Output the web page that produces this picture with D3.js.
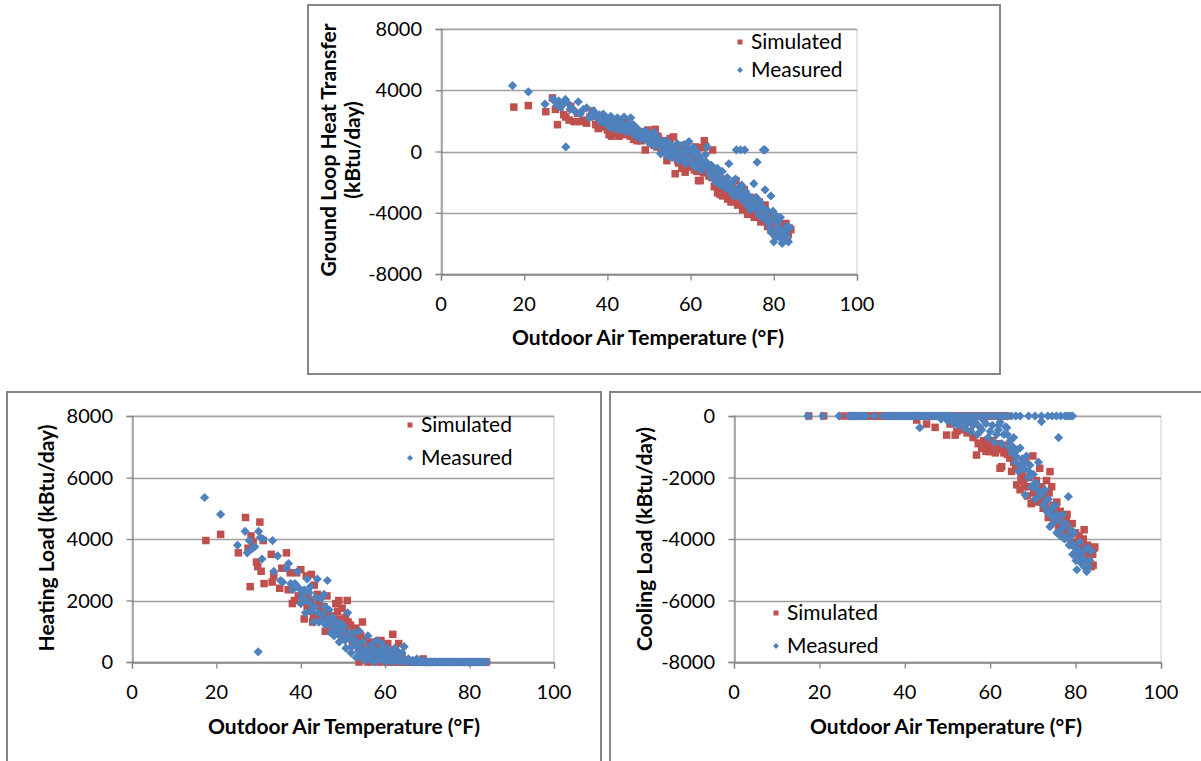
<!DOCTYPE html>
<html><head><meta charset="utf-8">
<script src="https://cdn.jsdelivr.net/npm/d3@7"></script>
<style>body{margin:0;background:#fff}svg{display:block}text{font-family:Lato,"Open Sans",sans-serif}</style>
</head><body><svg id="c" width="1201" height="761"></svg>
<script>
// ---------- DATA ----------
const xTicks = [0, 20, 40, 60, 80, 100];
const groundTicks = [-8000, -4000, 0, 4000, 8000];
const heatTicks = [0, 2000, 4000, 6000, 8000];
const coolTicks = [-8000, -6000, -4000, -2000, 0];
const seriesNames = ["Simulated", "Measured"];
const xTitle = "Outdoor Air Temperature (°F)";

const groundSim = [[17.5,2900],[21,3000],[25.2,2600],[26.8,3500],[27.5,2750],[28,1750],[28.6,2900],[29.5,2400],[30,2250],[30.8,2050],[31.2,2950],[32,1950],[32.8,2500],[33.4,1950],[34.2,2050],[35,1850],[35.8,2250],[36.3,2650],[36.8,2350],[37.2,1750],[37.8,1500],[38.3,1800],[38.8,2150],[39.5,1600],[40,1400],[40.4,1100],[40.8,1650],[41.2,1300],[41.6,1900],[42,1150],[42.4,1500],[42.8,1000],[43.1,1750],[43.5,1350],[43.9,1100],[44.3,1900],[44.7,1250],[45.1,1500],[45.5,1000],[45.9,1650],[46.3,800],[46.7,1350],[47.1,700],[47.5,1150],[47.9,950],[48.3,1300],[48.7,1050],[49.1,100],[49.5,850],[49.9,1200],[50.3,600],[50.7,900],[51.1,750],[51.5,1450],[51.9,300],[52.3,850],[52.7,450],[53.1,650],[53.5,200],[53.9,700],[54.3,-600],[54.7,350],[55.1,850],[55.5,-100],[55.9,950],[56.3,-1450],[56.7,100],[57.1,-750],[57.5,-200],[57.9,-1100],[58.3,250],[58.7,-1350],[59.1,-700],[59.5,-350],[59.9,50],[60.3,-1000],[60.7,-600],[61.1,300],[61.5,-1300],[61.9,-1900],[62.3,-1900],[62.7,250],[63.1,-1400],[63.3,700],[63.6,350],[64,-900],[64.4,-1600],[64.8,-1200],[65.3,100],[65.7,-2300],[66.1,-1900],[66.5,-2700],[66.9,-2100],[67.3,-2500],[67.7,-2900],[68.1,-2300],[68.5,-1800],[68.9,-3100],[69.3,-2600],[69.7,-3300],[70.1,-2200],[70.5,-2900],[70.9,-1900],[71.3,-3500],[71.7,-2700],[72.1,-3300],[72.5,-3800],[72.9,-2500],[73.3,-3200],[73.7,-4100],[74.1,-3400],[74.5,-3000],[74.9,-3800],[75.3,-4300],[75.7,-3600],[76.1,-4000],[76.5,-3300],[76.9,-4600],[77.3,-3800],[77.7,-4400],[78.1,-3900],[78.5,-4900],[78.9,-4200],[79.3,-5100],[79.7,-4600],[80.1,-4300],[80.5,-5300],[80.9,-4800],[81.3,-4500],[81.7,-5500],[82.1,-4900],[82.5,-5300],[82.9,-4700],[83.3,-5700],[83.7,-5000],[84.1,-5100],
  [40.2,1700],[41,1000],[41.8,1500],[42.6,1300],[43.3,1600],[44.1,1450],[44.9,1700],[45.7,1300],[46.5,1100],[47.3,1000],[48.1,700],[48.9,800],[49.7,1400],[50.5,1200],[51.3,400],[52.1,1000],[52.9,200],[53.7,400],[54.5,600],[55.3,200],[56.1,-300],[56.9,-600],[57.7,400],[58.5,-500],[59.3,-1000],[60.1,-200],[60.9,-1200],[61.7,-400],[62.5,-800],[63.9,-1300],[65.1,-1700],[66.3,-2100],[67.1,-2800],[68.3,-2700],[69.1,-2300],[70.3,-3100],[71.1,-2500],[72.3,-2900],[73.1,-3600],[73.9,-3100],[74.7,-4000],[75.5,-3100],[76.3,-4200],[77.1,-4100],[77.9,-3500],[78.7,-4500],[79.5,-4300],[80.3,-4900],[81.1,-5100],[81.9,-5000],[82.7,-5600],[83.5,-5400]];
const groundMeas = [[17.2,4300],[21,3900],[25,3100],[26.9,3450],[27.4,3250],[27.9,3000],[28.3,3300],[28.8,2900],[29.3,3100],[29.9,3400],[30,300],[30.5,3150],[31,2750],[31.6,2800],[32.3,2600],[33,3250],[33.5,2450],[34.2,2750],[35,2850],[35.6,2200],[36.1,2450],[36.7,2650],[37.1,2300],[37.6,2150],[38.1,2400],[38.6,1900],[39,2450],[39.5,2050],[40,1750],[40.4,2000],[40.8,2300],[41.2,1650],[41.6,1950],[42,1450],[42.4,2200],[42.8,1800],[43.2,1400],[43.6,1700],[44,2250],[44.4,1300],[44.8,1800],[45.2,1500],[45.6,2200],[46,1200],[46.4,1650],[46.8,1000],[47.2,1400],[47.6,1100],[48,800],[48.4,1250],[48.8,900],[49.2,1350],[49.6,700],[50,1050],[50.4,500],[50.8,900],[51.2,1250],[51.6,350],[52,650],[52.4,800],[52.8,-150],[53.2,400],[53.6,600],[54,100],[54.4,-300],[54.8,550],[55.2,200],[55.6,-400],[56,300],[56.4,-100],[56.8,500],[57.2,-600],[57.6,0],[58,-300],[58.4,450],[58.8,-800],[59.2,100],[59.6,650],[60,-500],[60.4,-200],[60.8,250],[61.2,-1000],[61.6,-700],[62,-300],[62.4,-1200],[62.8,-600],[63.2,-900],[63.6,-200],[64,300],[64.4,-1400],[64.8,-1000],[65.2,-1700],[65.6,-1200],[66,-2000],[66.4,-1100],[66.8,-1600],[67.2,-2200],[67.6,-1300],[68,-1900],[68.4,-2400],[68.8,-1700],[69.2,-800],[69.6,-2600],[70,-2000],[70.4,-2900],[70.8,-1800],[71,100],[71.4,-2400],[71.8,-3000],[72,100],[72.3,-2200],[72.7,-3200],[73,100],[73.2,-2600],[73.6,-3500],[74,-2900],[74.4,-3800],[74.8,-3200],[75.2,-2100],[75.6,-3600],[76,-700],[76.3,-4100],[76.7,-3300],[77.1,-4300],[77.5,100],[77.5,-3700],[77.9,100],[77.9,-2500],[78.2,-4500],[78.6,-3900],[79,-5000],[79.3,-2900],[79.6,-4400],[80,-5900],[80.2,-4100],[80.5,-5300],[80.9,-4700],[81.3,-5600],[81.6,-4300],[82,-6000],[82.3,-5100],[82.7,-5500],[83.1,-4900],[83.5,-5900],[83.8,-5000],
  [39.8,2200],[40.6,1550],[41.4,2100],[42.2,1750],[43,2050],[43.8,1550],[44.6,1600],[45.4,1350],[46.2,1750],[47,1550],[47.8,1200],[48.6,1100],[49.4,1000],[50.2,800],[51,600],[51.8,1000],[52.6,450],[53.4,100],[54.2,700],[55,-100],[55.8,0],[56.6,200],[57.4,-300],[58.2,-100],[59,-500],[59.8,200],[60.6,-900],[61.4,0],[62.2,-600],[63,-1100],[63.8,-700],[65,-900],[66.2,-1500],[67,-1900],[68.2,-2100],[69,-2200],[70.2,-2400],[71.2,-2700],[72.5,-2700],[73.4,-3000],[74.2,-3400],[75,-3700],[75.8,-3000],[76.5,-3800],[77.3,-3600],[78,-4200],[78.8,-4700],[79.4,-5300],[79.8,-3900],[80.4,-5600],[80.8,-5000],[81.2,-4500],[81.8,-5300],[82.5,-5800],[82.9,-5300],[83.3,-5600],[83.6,-4900]];

const heatSim = [[17.5,3950],[21,4150],[25.2,3550],[26.9,4700],[27.5,3700],[28,2450],[28.2,4100],[28.7,3900],[29.5,3250],[29.8,3100],[30.3,4550],[30.6,2950],[31.1,3950],[31.3,2550],[33,3500],[33.2,2600],[33.6,2800],[35,2400],[35.5,3050],[36.6,3550],[37,2350],[37.5,2900],[38,1900],[38.5,2000],[39,2900],[39.4,2150],[40,3000],[40.3,1950],[40.8,1400],[41.3,2800],[41.7,2150],[42,1650],[42.5,2850],[42.8,1300],[43.2,2500],[43.6,1850],[44,1400],[44.4,1950],[44.8,1700],[45.3,1450],[45.8,1000],[46.2,2150],[46.6,1250],[47,1500],[47.4,1100],[47.8,1350],[48.3,1900],[48.7,1650],[49,2000],[49.4,1150],[49.8,1750],[50.2,800],[50.6,1450],[51,2000],[51.4,900],[51.8,1200],[52.2,650],[52.6,1050],[53,1100],[53.4,750],[53.8,0],[54.2,850],[54.6,1300],[55,400],[55.4,700],[55.8,0],[56.2,500],[56.6,300],[57,650],[57.4,100],[57.8,450],[58.2,0],[58.6,200],[59,700],[59.4,0],[59.8,300],[60.2,150],[60.6,600],[61,100],[61.4,0],[61.8,900],[62.2,400],[62.6,50],[63,250],[63.4,0],[63.8,100],[64.4,0],[65,50],[66,0],[67,0],[68,0],[69,100],[70,0],[71,0],[72,0],[73,0],[74,0],[75,0],[76,0],[77,0],[78,0],[79,0],[80,0],[81,0],[82,0],[83,0],[84,0],
  [40.6,2300],[41.5,1800],[42.3,2000],[43,1500],[43.9,2200],[44.6,1550],[45.5,1800],[46.4,1600],[47.2,1300],[48,1000],[48.9,1400],[49.6,1200],[50.4,1000],[51.2,1300],[52,800],[52.8,900],[53.6,500],[54.4,600],[55.2,300],[56,200],[56.8,0],[57.6,300],[58.4,500],[59.2,200],[60,400],[60.8,0],[61.6,300],[62.4,0],[63.2,600],[64,200],[64.8,0],[65.5,0],[66.5,0],[67.5,0],[68.5,0],[69.5,0],[70.5,0],[71.5,0],[72.5,0],[73.5,0],[74.5,0],[75.5,0],[76.5,0],[77.5,0],[78.5,0],[79.5,0],[80.5,0],[81.5,0],[82.5,0],[83.5,0]];
const heatMeas = [[17.2,5350],[21,4800],[25,3800],[26.8,4250],[27.3,3550],[27.8,3950],[28.1,3650],[28.6,3700],[29.1,3750],[29.9,330],[30,4250],[30.4,4050],[30.8,3350],[31.1,4000],[33.3,3950],[33.6,2950],[34.5,3450],[35.2,2650],[35.7,2600],[36.6,3050],[37.1,3200],[37.6,2550],[38.1,2350],[38.6,2550],[39.2,2950],[39.6,2400],[40,1900],[40.4,2250],[40.8,2350],[41.1,1600],[41.5,2700],[41.9,1950],[42.3,2450],[42.7,1750],[43.1,1300],[43.5,2100],[43.9,2700],[44.3,1300],[44.7,2050],[45.1,1550],[45.5,2200],[45.9,1200],[46.3,2650],[46.7,1700],[47.1,950],[47.5,1450],[47.9,850],[48.3,1300],[48.7,1050],[49.1,650],[49.5,1250],[49.9,800],[50.3,1150],[50.7,450],[51.1,1600],[51.5,950],[51.9,300],[52.3,700],[52.7,950],[53.1,150],[53.5,500],[53.9,1000],[54.3,200],[54.7,650],[55.1,50],[55.5,400],[55.9,850],[56.3,100],[56.7,550],[57.1,250],[57.5,0],[57.9,700],[58.3,350],[58.7,100],[59.1,600],[59.5,200],[59.9,0],[60.3,450],[60.7,150],[61.1,300],[61.5,0],[61.9,200],[62.3,450],[62.7,50],[63.1,150],[63.5,0],[64,300],[64.5,500],[65,0],[65.5,100],[66,0],[66.5,50],[67,0],[67.5,100],[68,0],[68.5,0],[69,50],[69.5,0],[70,0],[70.5,0],[71,0],[71.5,0],[72,0],[72.5,0],[73,0],[73.5,0],[74,0],[74.5,0],[75,0],[75.5,0],[76,0],[76.5,0],[77,0],[77.5,0],[78,0],[78.5,0],[79,0],[79.5,0],[80,0],[80.5,0],[81,0],[81.5,0],[82,0],[82.5,0],[83,0],[83.5,0],
  [40.2,2100],[41.3,2000],[42,2250],[42.5,1650],[43.3,1800],[44.1,1600],[44.9,1350],[45.7,1800],[46.5,1400],[47.3,1200],[48.1,1100],[48.9,900],[49.7,1000],[50.5,700],[51.3,800],[52.1,500],[52.9,700],[53.7,350],[54.5,400],[55.3,250],[56.1,300],[56.9,150],[57.7,400],[58.5,250],[59.3,400],[60.1,100],[60.9,350],[61.7,100],[62.5,200],[63.3,300],[64.2,100],[64.8,0],[65.8,50],[66.8,0],[67.8,0],[68.8,0],[69.8,0],[70.8,0],[71.8,0],[72.8,0],[73.8,0],[74.8,0],[75.8,0],[76.8,0],[77.8,0],[78.8,0],[79.8,0],[80.8,0],[81.8,0],[82.8,0],[84,0]];

const coolSimZeroTemps = [17.5,21,25.2,26.9,27.5,28,28.5,29,29.5,30,30.5,31,31.5,32,33,33.5,34,35,35.5,36,36.5,37,37.5,38,38.5,39,39.5,40,40.5,41,41.5,42,43,44,45,46,47,48,49,50,51,52,53,54,55,56,57,58,59,60,61,62,63,63.8];
const coolSim = [[42.8,-130],[45.1,-260],[47.1,-370],[49.8,-620],[50.6,-260],[51.8,-620],[52.2,-500],[53,-450],[54,-400],[54.6,-550],[55.3,-500],[56,-700],[56.8,-1270],[57.2,-900],[57.6,-880],[58,-1050],[58.5,-800],[59,-1150],[59.5,-950],[60,-1160],[60.5,-800],[61,-1000],[61.5,-1100],[62.3,-1700],[62.7,-1650],[63.2,-1200],[63.7,-950],[64.2,-1100],[64.6,-1370],[65,-1800],[65.5,-1500],[66.2,-2240],[66.6,-1600],[67,-2400],[67.4,-1900],[67.8,-2100],[68.3,-1500],[68.7,-2600],[69.2,-2300],[69.6,-2850],[70,-1300],[70.4,-2500],[70.8,-2100],[71.2,-2800],[71.6,-1700],[72,-2300],[72.4,-3000],[72.8,-2600],[73.2,-2100],[73.6,-3300],[74,-1810],[74.4,-2300],[74.8,-2900],[75.2,-3400],[75.6,-2800],[76,-3600],[76.4,-3100],[76.8,-3500],[77.2,-3300],[77.6,-3800],[78,-3200],[78.4,-3700],[78.8,-4000],[79.2,-3500],[79.6,-4200],[80,-3800],[80.4,-4400],[80.8,-3900],[81.2,-4100],[81.6,-4500],[82,-3700],[82.4,-4700],[82.8,-4200],[83.2,-4600],[83.6,-4900],[84.1,-4850],[84.3,-4300],[84.5,-4260],
  [58.2,-1000],[59.2,-850],[60.2,-950],[61.2,-1200],[62,-900],[63,-1000],[64,-1250],[65.3,-1300],[66,-1700],[67.2,-2000],[68,-2300],[69,-2000],[70.2,-2400],[71,-2600],[72.2,-2700],[73,-2900],[73.8,-2500],[74.6,-3100],[75.4,-3000],[76.2,-3300],[77,-3700],[77.8,-3400],[78.6,-3900],[79.4,-3800],[80.2,-4100],[81,-4300],[81.8,-4000],[82.6,-4400],[83.4,-4300],[84,-4500]];
const coolMeasZeroTemps = [17.3,20.8,24.6,27,27.5,28,28.5,29,29.5,30,30.5,31,33,35,35.5,36,36.5,37,37.5,38,38.5,39,39.5,40,40.5,41,41.5,42,42.5,43,43.5,44,44.5,45,45.5,46,46.5,47,47.5,48,48.5,49,49.5,50,50.5,51,51.5,52,53,54,55,56,57,58,59,60,61,62,63,64,65,66,67,69,70.5,72,73.5,74.5,75.5,76.5,77.5,78,78.5,79,79.3];
const coolMeas = [[43.5,-380],[48.5,-100],[50,-150],[51,-100],[51.5,-250],[52,-150],[52.5,-300],[53,-200],[53.5,-100],[54,-400],[54.5,-250],[55,-150],[55.5,-500],[56,-300],[56.5,-200],[57,-600],[57.5,-350],[58,-450],[58.5,-150],[59,-250],[59.5,-700],[60,-500],[60.5,-300],[61,-850],[61.5,-600],[61.9,-450],[62.3,-200],[62.7,-900],[63.2,-600],[63.6,-350],[63.9,-380],[64.3,-1000],[64.7,-800],[65.1,-1200],[65.5,-700],[65.9,-1500],[66.3,-1100],[66.6,-1800],[67,-1040],[67.4,-1400],[67.8,-1700],[68.2,-2570],[68.5,-1300],[68.9,-2000],[69.3,-1600],[69.7,-2300],[70.1,-1900],[70.5,-2700],[70.9,-2200],[71.3,-1500],[71.7,-2600],[72,-180],[72.4,-2900],[72.8,-2400],[73.2,-3100],[73.6,-2700],[74,-3600],[74.4,-3000],[74.8,-3300],[75.2,-2900],[75.6,-3800],[76,-700],[76.2,-3400],[76.6,-3700],[77,-3200],[77.4,-4000],[77.8,-3500],[78.3,-2620],[78.5,-4200],[78.9,-3700],[79.3,-4500],[79.6,-3800],[80,-4300],[80.3,-5000],[80.6,-4600],[81,-4100],[81.4,-4800],[81.8,-4400],[82.2,-4700],[82.6,-5060],[83,-4300],[83.3,-4700],[83.7,-4400],
  [62,-300],[64,-600],[65.3,-1000],[66,-1300],[67.2,-1600],[68,-1500],[69,-1800],[70.3,-2200],[71,-2400],[72.2,-2500],[73,-2800],[73.9,-3200],[74.6,-3500],[75.4,-3200],[76.4,-3900],[77.2,-3600],[78,-3900],[78.7,-4000],[79.5,-4200],[80.1,-4700],[80.8,-4400],[81.6,-4600],[82.4,-4300],[83.1,-4900],[82,-4900]];

// ---------- DRAW ----------
const RED = "#C0504D", BLUE = "#4F81BD";
const svg = d3.select("#c");
svg.append("rect").attr("width",1201).attr("height",761).attr("fill","#fff");

function panel(cfg){
  const g = svg.append("g");
  g.append("rect").attr("x",cfg.frame[0]).attr("y",cfg.frame[1]).attr("width",cfg.frame[2]).attr("height",cfg.frame[3])
    .attr("fill","#fff").attr("stroke","#868686").attr("stroke-width",2);
  const x = d3.scaleLinear().domain([0,100]).range([cfg.x0,cfg.x1]);
  const y = d3.scaleLinear().domain(cfg.yDomain).range([cfg.yBot,cfg.yTop]);
  g.append("rect").attr("x",cfg.x0).attr("y",cfg.yTop).attr("width",cfg.x1-cfg.x0).attr("height",cfg.yBot-cfg.yTop)
    .attr("fill","none").attr("stroke","#c8c8c8").attr("stroke-width",1);
  g.append("g").selectAll("line").data(cfg.yTicks).join("line")
    .attr("x1",cfg.x0).attr("x2",cfg.x1).attr("y1",d=>Math.round(y(d))+0.5).attr("y2",d=>Math.round(y(d))+0.5)
    .attr("stroke","#a0a0a0").attr("stroke-width",1.3);
  const ax = g.append("g").attr("transform",`translate(0,${Math.round(y(cfg.xAxisAt))+0.5})`)
    .call(d3.axisBottom(x).tickValues(xTicks).tickSize(6).tickFormat(""));
  const ay = g.append("g").attr("transform",`translate(${cfg.x0+0.5},0)`)
    .call(d3.axisLeft(y).tickValues(cfg.yTicks).tickSize(6).tickFormat(""));
  [ax,ay].forEach(a=>{a.select(".domain").attr("stroke","#868686").attr("stroke-width",1.3);
    a.selectAll(".tick line").attr("stroke","#868686").attr("stroke-width",1.3);});
  g.append("g").selectAll("text").data(xTicks).join("text")
    .attr("x",d=>x(d)).attr("y",cfg.yBot+30).attr("dy","0.35em").attr("text-anchor","middle")
    .attr("font-size",20).attr("fill","#000").text(d=>d);
  g.append("g").selectAll("text").data(cfg.yTicks).join("text")
    .attr("x",cfg.x0-19).attr("y",d=>y(d)).attr("dy","0.35em").attr("text-anchor","end")
    .attr("font-size",20).attr("fill","#000").text(d=>d);
  g.append("text").attr("x",cfg.xTitle[0]).attr("y",cfg.xTitle[1]).attr("dy","0.35em").attr("text-anchor","middle")
    .attr("font-size",21).attr("font-weight","bold").attr("fill","#000").text(xTitle);
  cfg.yTitle.forEach(t=>{
    g.append("text").attr("transform",`translate(${t[0]},${t[1]}) rotate(-90)`).attr("dy","0.35em").attr("text-anchor","middle")
      .attr("font-size",21).attr("font-weight","bold").attr("fill","#000").text(t[2]);
  });
  const sq = 7.5, dm = 4.6;
  g.append("g").selectAll("rect").data(cfg.sim).join("rect")
    .attr("x",d=>x(d[0])-sq/2).attr("y",d=>y(d[1])-sq/2).attr("width",sq).attr("height",sq).attr("fill",RED);
  const diamond = (cx,cy,r)=>`M${cx},${cy-r}L${cx+r},${cy}L${cx},${cy+r}L${cx-r},${cy}Z`;
  g.append("g").selectAll("path").data(cfg.meas).join("path")
    .attr("d",d=>diamond(x(d[0]),y(d[1]),dm)).attr("fill",BLUE);
  const L = cfg.legend;
  seriesNames.forEach((n,i)=>{
    const ly = L[1]+i*L[2];
    if(i===0) g.append("rect").attr("x",L[0]-2.5).attr("y",ly-2.5).attr("width",5).attr("height",5).attr("fill",RED);
    else g.append("path").attr("d",diamond(L[0],ly,3)).attr("fill",BLUE);
    g.append("text").attr("x",L[0]+11).attr("y",ly).attr("dy","0.35em").attr("font-size",21).attr("fill","#000").text(n);
  });
}

panel({frame:[308,5,692,369], x0:441, x1:857, yTop:29, yBot:274, yDomain:[-8000,8000], yTicks:groundTicks, xAxisAt:-8000,
  xTitle:[648,338], yTitle:[[329,150,"Ground Loop Heat Transfer"],[353,150,"(kBtu/day)"]],
  sim:groundSim, meas:groundMeas, legend:[740,42,28]});
panel({frame:[7,392,594,380], x0:132, x1:554, yTop:416, yBot:662, yDomain:[0,8000], yTicks:heatTicks, xAxisAt:0,
  xTitle:[344,727], yTitle:[[47,538,"Heating Load (kBtu/day)"]],
  sim:heatSim, meas:heatMeas, legend:[410,425,33]});
panel({frame:[610,392,600,380], x0:734, x1:1161, yTop:416, yBot:662, yDomain:[-8000,0], yTicks:coolTicks, xAxisAt:-8000,
  xTitle:[946,727], yTitle:[[645,539,"Cooling Load (kBtu/day)"]],
  sim:coolSimZeroTemps.map(t=>[t,0]).concat(coolSim), meas:coolMeasZeroTemps.map(t=>[t,0]).concat(coolMeas), legend:[776,613,33]});
</script></body></html>
